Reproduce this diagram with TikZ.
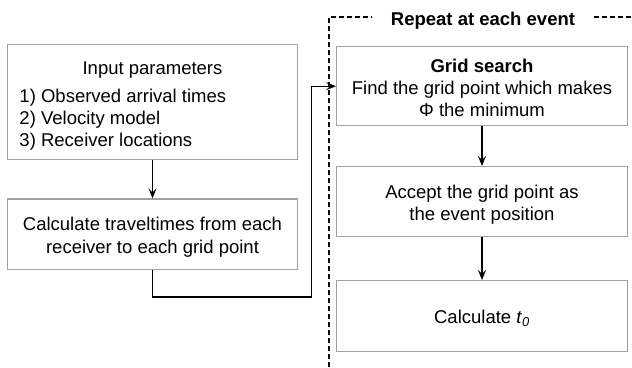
\documentclass[tikz,border=0pt]{standalone}
\usepackage{fontspec}
\setmainfont{Liberation Sans}
\usetikzlibrary{arrows.meta,calc}
\definecolor{boxgray}{RGB}{160,160,160}
\tikzset{
  box/.style={draw=boxgray, line width=1.4bp, inner sep=0pt},
  txt/.style={anchor=base, inner sep=0pt, font=\fontsize{18.5bp}{22bp}\selectfont},
  ltxt/.style={txt, anchor=base west},
  conn/.style={line width=1.4bp, -{Stealth[length=10bp,width=8bp,inset=4bp]}},
  dsh/.style={line width=1.3bp, dash pattern=on 5bp off 3bp},
}
\begin{document}
\begin{tikzpicture}[x=1bp,y=-1bp]
\useasboundingbox (0,0) rectangle (632,367);
% boxes
\node[box, minimum width=290.4bp, minimum height=115bp] (b1) at (152.5,101.8) {};
\node[box, minimum width=290.4bp, minimum height=70.3bp] (b2) at (152.5,234.2) {};
\node[box, minimum width=290.6bp, minimum height=79bp] (b3) at (482,86.2) {};
\node[box, minimum width=290.6bp, minimum height=70bp] (b4) at (482,201.7) {};
\node[box, minimum width=290.6bp, minimum height=71bp] (b5) at (482,316.2) {};
% texts
\node[txt] (t1) at (152.5,74) {Input parameters};
\node[ltxt] (t1a) at (19.3,102) {1) Observed arrival times};
\node[ltxt] (t1b) at (19.3,124) {2) Velocity model};
\node[ltxt] (t1c) at (19.3,146) {3) Receiver locations};
\node[txt] (t2a) at (152.5,230) {Calculate traveltimes from each};
\node[txt] (t2b) at (152.5,253) {receiver to each grid point};
\node[txt, font=\fontsize{18.5bp}{22bp}\selectfont\bfseries] (t3a) at (482,72) {Grid search};
\node[txt] (t3b) at (482,94) {Find the grid point which makes};
\node[txt] (t3c) at (482,116) {Φ the minimum};
\node[txt] (t4a) at (482,198) {Accept the grid point as};
\node[txt] (t4b) at (482,220) {the event position};
\node[txt] (t5) at (482,323) {Calculate \textit{t}\textsubscript{\textit{0}}};
% repeat frame
\node[txt, font=\fontsize{18.5bp}{22bp}\selectfont\bfseries, inner xsep=18.5bp] (title) at (483,25) {Repeat at each event};
\coordinate (dbot) at (329,367);
\coordinate (dcorner) at (329,17);
\coordinate (dend) at (632,17);
\draw[dsh] (dbot) -- (dcorner) -- (dcorner -| title.west);
\draw[dsh] (title.east |- dcorner) -- (dend);
% connectors
\draw[conn] (b1) -- (b2);
\draw[conn] (b3) -- (b4);
\draw[conn] (b4) -- (b5);
\coordinate (c1) at (311.5,297);
\draw[conn] (b2.south) |- (c1) |- (b3.west);
\end{tikzpicture}
\end{document}
